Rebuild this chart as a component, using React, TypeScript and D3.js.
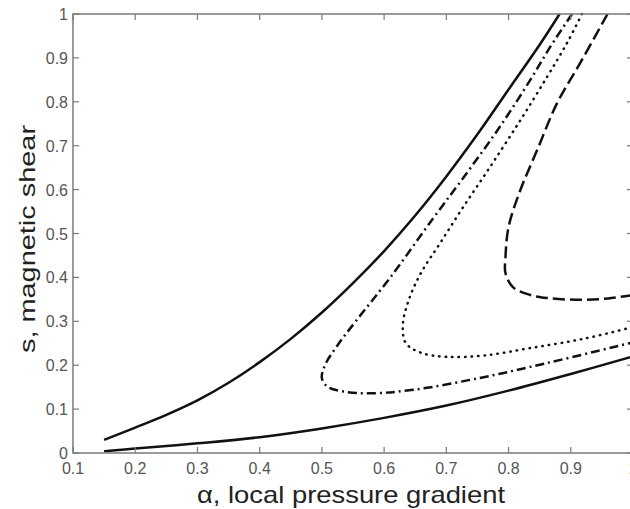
import * as d3 from 'd3';

// axis ticks
const xTicks = [0.1, 0.2, 0.3, 0.4, 0.5, 0.6, 0.7, 0.8, 0.9, 1];
const yTicks = [0, 0.1, 0.2, 0.3, 0.4, 0.5, 0.6, 0.7, 0.8, 0.9, 1];

// solid curve, upper branch (alpha, s)
const solidUpperA = [0.15, 0.2, 0.25, 0.3, 0.35, 0.4, 0.45, 0.5, 0.55, 0.6, 0.65, 0.7, 0.75, 0.8, 0.85, 0.882];
const solidUpperS = [0.03, 0.058, 0.087, 0.12, 0.16, 0.207, 0.26, 0.32, 0.387, 0.46, 0.541, 0.63, 0.726, 0.828, 0.93, 1.0];

// solid curve, lower branch
const solidLowerA = [0.15, 0.2, 0.3, 0.4, 0.5, 0.6, 0.7, 0.8, 0.9, 1.0];
const solidLowerS = [0.004, 0.01, 0.022, 0.036, 0.056, 0.08, 0.108, 0.142, 0.18, 0.22];

// dash-dot curve (from top, round the nose, out to the right)
const dashDotA = [0.902, 0.867, 0.835, 0.786, 0.733, 0.679, 0.61, 0.556, 0.525, 0.505, 0.5, 0.51, 0.535, 0.577, 0.647, 0.754, 0.862, 1.0];
const dashDotS = [1.0, 0.925, 0.85, 0.743, 0.638, 0.535, 0.4, 0.303, 0.245, 0.2, 0.17, 0.15, 0.14, 0.136, 0.144, 0.171, 0.205, 0.252];

// dotted curve
const dottedA = [0.918, 0.894, 0.862, 0.819, 0.77, 0.727, 0.69, 0.66, 0.64, 0.63, 0.635, 0.66, 0.7, 0.76, 0.835, 0.92, 1.0];
const dottedS = [1.0, 0.934, 0.857, 0.758, 0.651, 0.56, 0.478, 0.412, 0.35, 0.29, 0.25, 0.228, 0.219, 0.222, 0.239, 0.26, 0.287];

// dashed curve
const dashedA = [0.959, 0.915, 0.878, 0.846, 0.819, 0.8, 0.795, 0.795, 0.807, 0.835, 0.862, 0.915, 0.96, 1.0];
const dashedS = [1.0, 0.888, 0.797, 0.69, 0.599, 0.515, 0.444, 0.41, 0.378, 0.36, 0.353, 0.349, 0.352, 0.36];

const W = 630;
const H = 509;
const left = 73, right = 633, top = 14, bottom = 453;

const x = d3.scaleLinear().domain([0.1, 1]).range([left, right]);
const y = d3.scaleLinear().domain([0, 1]).range([bottom, top]);

const line = d3.line<[number, number]>()
  .x(d => x(d[0]))
  .y(d => y(d[1]))
  .curve(d3.curveCatmullRom.alpha(0.5));

const zip = (a: number[], s: number[]) => a.map((v, i) => [v, s[i]] as [number, number]);

const curves = [
  { a: solidUpperA, s: solidUpperS, dash: null, w: 2.5, cap: 'butt' },
  { a: solidLowerA, s: solidLowerS, dash: null, w: 2.5, cap: 'butt' },
  { a: dashDotA, s: dashDotS, dash: '9,4,2,4', w: 2.5, cap: 'butt' },
  { a: dottedA, s: dottedS, dash: '0.5,6', w: 2.5, cap: 'round' },
  { a: dashedA, s: dashedS, dash: '12,5', w: 2.5, cap: 'butt' },
];

const axisColor = '#7a7a7a';
const labelColor = '#555';
const font = '"Liberation Sans", Arial, sans-serif';

export default function App() {
  return (
    <svg width={W} height={H} style={{ position: 'absolute', left: 0, top: 0, background: '#fff' }}>
      <rect x={0} y={0} width={W} height={H} fill="#fff" />

      {/* curves */}
      <g fill="none" stroke="#111">
        {curves.map((c, i) => (
          <path key={i} d={line(zip(c.a, c.s)) || ''}
            strokeWidth={c.w}
            strokeDasharray={c.dash || undefined}
            strokeLinecap={c.cap as any} />
        ))}
      </g>

      {/* box */}
      <rect x={left} y={top} width={right - left} height={bottom - top}
        fill="none" stroke={axisColor} strokeWidth={1.5} />

      {/* ticks, all four sides, pointing in */}
      <g stroke={axisColor} strokeWidth={1.2}>
        {xTicks.map(t => (
          <g key={t}>
            <line x1={x(t)} x2={x(t)} y1={bottom} y2={bottom - 6} />
            <line x1={x(t)} x2={x(t)} y1={top} y2={top + 6} />
          </g>
        ))}
        {yTicks.map(t => (
          <g key={t}>
            <line x1={left} x2={left + 6} y1={y(t)} y2={y(t)} />
            <line x1={right} x2={right - 6} y1={y(t)} y2={y(t)} />
          </g>
        ))}
      </g>

      <g fontFamily={font} fontSize={16} fill={labelColor}>
        {xTicks.map(t => (
          <text key={t} x={x(t)} y={474} textAnchor="middle">{d3.format('')(t)}</text>
        ))}
        {yTicks.map(t => (
          <text key={t} x={left - 5} y={y(t) + 6} textAnchor="end">{d3.format('')(t)}</text>
        ))}
      </g>

      {/* axis labels */}
      <text x={351} y={503} textAnchor="middle" fontFamily={font} fontSize={24}
        fill="#222" textLength={308} lengthAdjust="spacingAndGlyphs">
        α, local pressure gradient
      </text>
      <text transform="translate(35,239) rotate(-90)" textAnchor="middle" fontFamily={font}
        fontSize={22} fill="#222" textLength={228} lengthAdjust="spacingAndGlyphs">
        s, magnetic shear
      </text>
    </svg>
  );
}
